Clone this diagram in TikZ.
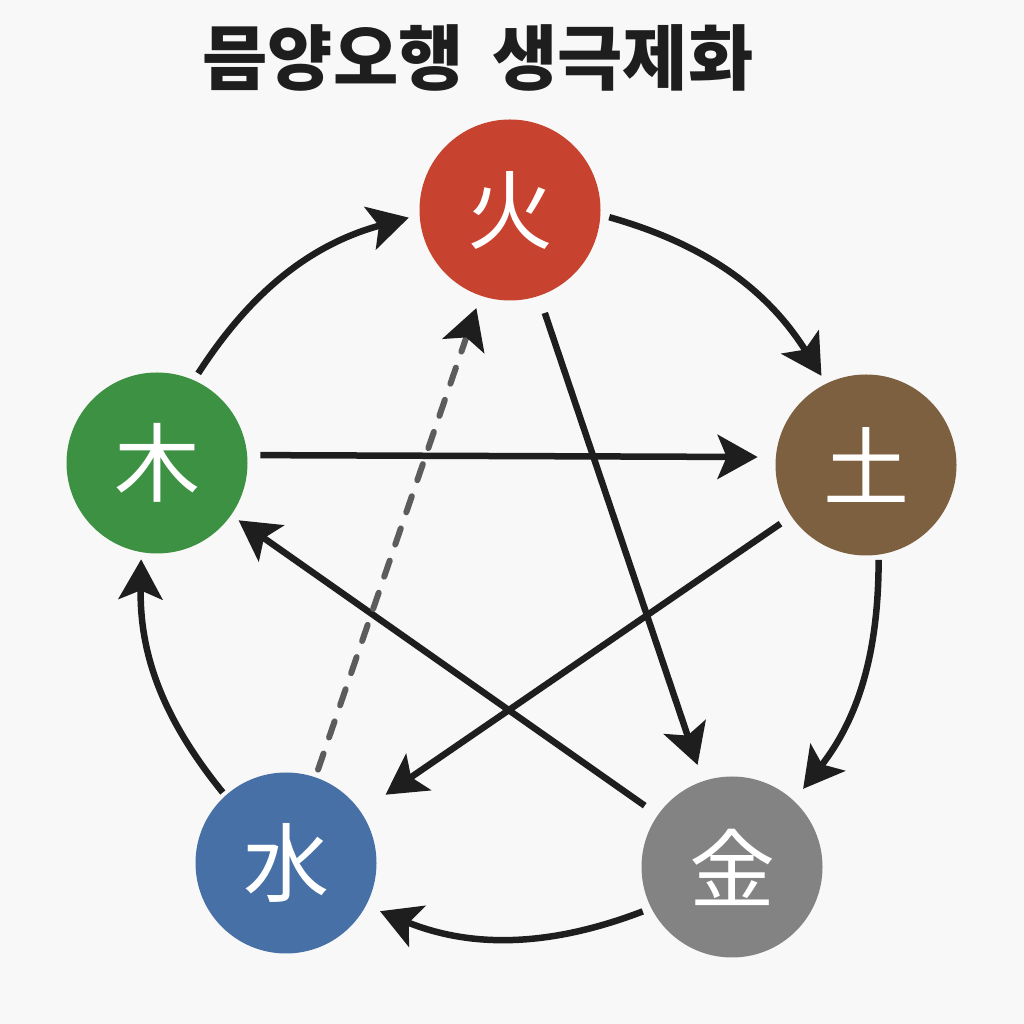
\documentclass[tikz,border=0pt]{standalone}
\usepackage{fontspec}
\newfontfamily\kr{Noto Sans CJK KR}
\usetikzlibrary{arrows.meta}
\definecolor{bgc}{HTML}{F8F8F8}
\definecolor{firec}{HTML}{C8432F}
\definecolor{earthc}{HTML}{7D6040}
\definecolor{metalc}{HTML}{838383}
\definecolor{waterc}{HTML}{4670A6}
\definecolor{woodc}{HTML}{3D9142}
\definecolor{linec}{HTML}{1E1E1E}
\definecolor{dashc}{HTML}{5C5C5C}
\tikzset{
  elem/.style={circle, minimum size=181pt, inner sep=0pt, text=white,
    font=\kr\fontsize{86}{86}\selectfont},
  conn/.style={draw=linec, line width=6.5pt,
    -{Stealth[length=40pt, width=44pt, inset=9pt]}},
  weak/.style={draw=dashc, line width=6pt, line cap=round,
    dash pattern=on 17pt off 17pt,
    -{Stealth[length=40pt, width=44pt, inset=9pt, color=linec]}},
}
\begin{document}
\begin{tikzpicture}[x=1pt,y=1pt]
\useasboundingbox (0,0) rectangle (1024,1024);
\fill[bgc] (0,0) rectangle (1024,1024);

\node[font=\kr\bfseries\fontsize{71}{71}\selectfont, text=linec] (title) at (478,966) {믐양오행\hspace{0.4em}생극제화};

\node[elem, fill=firec]  (fire)  at (510,814) {火};
\node[elem, fill=earthc] (earth) at (866,559) {土};
\node[elem, fill=metalc] (metal) at (732,157) {金};
\node[elem, fill=waterc] (water) at (286,161) {水};
\node[elem, fill=woodc]  (wood)  at (157,561) {木};

% generating cycle
\draw[conn, shorten <=8pt, shorten >=11pt] (wood.66) to[bend left=21] (fire.183);
\draw[conn, shorten <=9pt, shorten >=9pt] (fire.-3) to[bend left=21] (earth.116);
\draw[conn, shorten <=5pt, shorten >=15pt] (earth.-82) to[bend left=19] (metal.47);
\draw[conn, shorten <=9pt, shorten >=15pt] (metal.207) to[bend left=21.5] (water.-28);
\draw[conn, shorten <=4pt, shorten >=7pt] (water.132) to[bend left=20] (wood.260);

% overcoming cycle
\draw[conn, shorten <=13pt, shorten >=18pt] (wood.5) -- (earth.175);
\draw[conn, shorten <=18pt, shorten >=17pt] (fire) -- (metal);
\draw[conn, shorten <=13pt, shorten >=30pt] (earth) -- (water);
\draw[conn, shorten <=16pt, shorten >=9pt] (metal) -- (wood);
\draw[weak, shorten <=8pt, shorten >=13pt] (water) -- (fire);
\end{tikzpicture}
\end{document}
